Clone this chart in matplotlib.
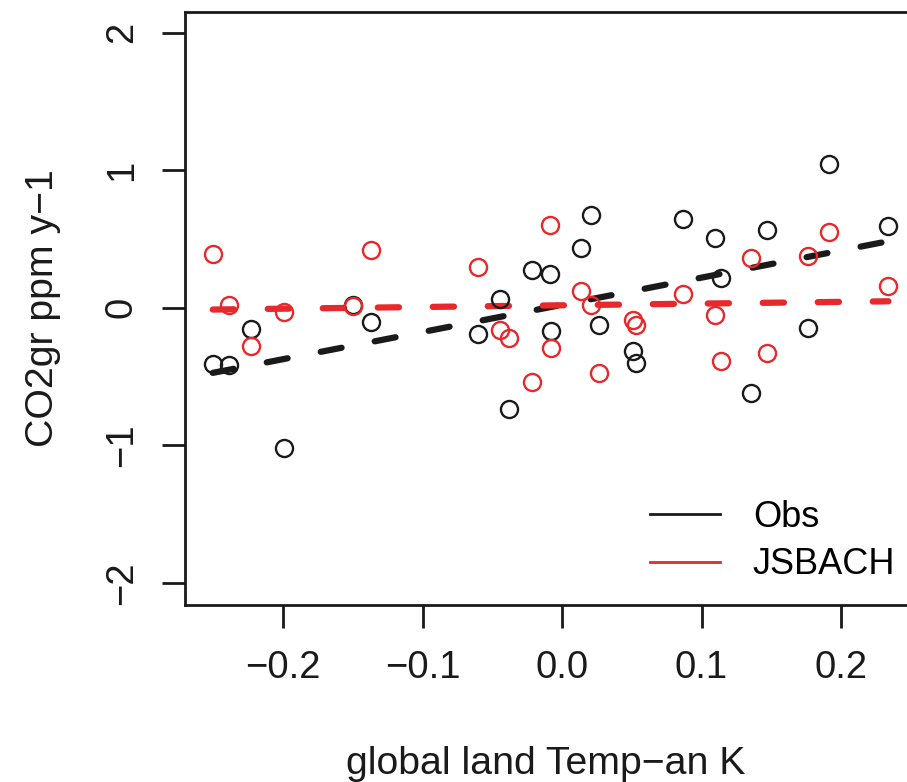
import numpy as np
import matplotlib.pyplot as plt
from matplotlib.lines import Line2D

plt.rcParams['font.family'] = ['Liberation Sans', 'DejaVu Sans']

# global land temperature anomaly (K), one value per year
temp = [-0.2504, -0.239, -0.223, -0.199, -0.1496, -0.137, -0.060, -0.0444,
        -0.038, -0.0217, -0.0086, -0.0079, 0.0136, 0.0208, 0.0268, 0.0511,
        0.053, 0.087, 0.1097, 0.114, 0.1355, 0.1467, 0.1766, 0.1916, 0.234]
# CO2 growth rate anomaly (ppm/yr), observed
obs = [-0.407, -0.415, -0.153, -1.02, 0.022, -0.10, -0.191, 0.063,
       -0.737, 0.276, 0.247, -0.165, 0.434, 0.676, -0.124, -0.313,
       -0.398, 0.645, 0.507, 0.216, -0.616, 0.567, -0.148, 1.047, 0.596]
# CO2 growth rate anomaly (ppm/yr), JSBACH model
jsbach = [0.393, 0.022, -0.281, -0.027, 0.01, 0.422, 0.300, -0.16,
          -0.22, -0.536, 0.604, -0.293, 0.119, 0.017, -0.475, -0.087,
          -0.124, 0.102, -0.051, -0.390, 0.361, -0.325, 0.373, 0.548, 0.155]

xticks = [-0.2, -0.1, 0.0, 0.1, 0.2]
xticklabels = ['\u22120.2', '\u22120.1', '0.0', '0.1', '0.2']
yticks = [-2, -1, 0, 1, 2]
yticklabels = ['\u22122', '\u22121', '0', '1', '2']

red = '#e8282b'
black = '#1a1a1a'

fig = plt.figure(figsize=(9.07, 7.82), dpi=100)
ax = fig.add_axes([185 / 907, 1 - 605 / 782, (907 - 185) / 907, (605 - 12) / 782])

x = np.array(temp)
xs = np.array([x.min(), x.max()])
for y, c in [(obs, black), (jsbach, red)]:
    ax.plot(x, y, 'o', mfc='none', mec=c, ms=12.3, mew=1.7, zorder=3)
    k, b = np.polyfit(x, y, 1)
    ax.plot(xs, k * xs + b, color=c, lw=4.5, dashes=(3.4, 5.4),
            dash_capstyle='round', zorder=2)

ax.set_xlim(-0.2703, 0.2473)
ax.set_ylim(-2.16, 2.15)
ax.spines['right'].set_visible(False)
for s in ['left', 'top', 'bottom']:
    ax.spines[s].set_linewidth(2)
    ax.spines[s].set_color(black)

ax.set_xticks(xticks)
ax.set_xticklabels(xticklabels)
ax.set_yticks(yticks)
ax.set_yticklabels(yticklabels, rotation=90, va='center')
ax.tick_params(length=16.5, width=2, color=black, labelsize=27.5, pad=16, labelcolor=black)

ax.set_xlabel('global land Temp\u2212an K', fontsize=28.3, color=black)
ax.xaxis.set_label_coords(0.5, -0.238)
ax.set_ylabel('CO2gr ppm y\u22121', fontsize=28.3, color=black)
ax.yaxis.set_label_coords(-0.172, 0.5)

handles = [Line2D([], [], color=black, lw=2), Line2D([], [], color=red, lw=2)]
ax.legend(handles, ['Obs', 'JSBACH'], loc='center left', bbox_to_anchor=(650 / 907, 1 - 541 / 782),
          bbox_transform=fig.transFigure, frameon=False, fontsize=26, borderpad=0,
          borderaxespad=0, handlelength=1.95, handletextpad=0.9, labelspacing=0.35)

fig.savefig('out.png', dpi=100)
